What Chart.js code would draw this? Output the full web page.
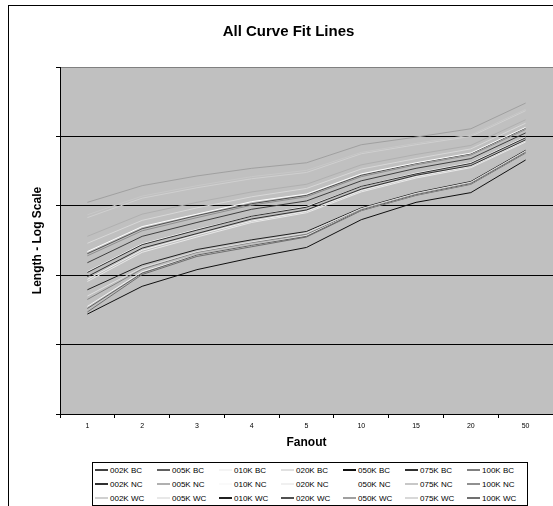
<!DOCTYPE html>
<html>
<head>
<meta charset="utf-8">
<script src="https://cdn.jsdelivr.net/npm/chart.js@4/dist/chart.umd.min.js"></script>
<style>
  html, body { margin: 0; padding: 0; background: #fff; overflow: hidden; }
  #wrap { position: relative; width: 553px; height: 506px; }
  #frame { position: absolute; left: 8px; top: 5px; width: 600px; height: 600px;
           border-left: 1px solid #000; border-top: 1px solid #000; }
  #chart { position: absolute; left: 0; top: 0; }
  #legend { position: absolute; left: 92px; top: 462px; width: 434px; height: 42px;
            border: 1px solid #000; background: #fff;
            display: grid; grid-template-columns: repeat(7, 62px); grid-auto-rows: 14px;
            font: 8px Arial, "Liberation Sans", sans-serif; color: #000; }
  #legend .item { display: flex; align-items: center; padding-left: 2px; white-space: nowrap; }
  #legend .swatch { width: 13px; height: 2px; margin-right: 2px; }
</style>
</head>
<body>
<div id="wrap">
  <div id="frame"></div>
  <canvas id="chart" width="553" height="506"></canvas>
  <div id="legend"></div>
</div>
<script>
// fanout categories
var fanout = ['1', '2', '3', '4', '5', '10', '15', '20', '50'];

// log10(length), one array per curve
var bc002 = [2.18, 2.56, 2.76, 2.95, 3.07, 3.36, 3.54, 3.68, 4.05];
var bc005 = [1.52, 2.03, 2.29, 2.43, 2.56, 2.94, 3.16, 3.32, 3.77];
var bc010 = [1.55, 2.05, 2.29, 2.43, 2.57, 2.94, 3.16, 3.32, 3.77];
var bc020 = [1.70, 2.11, 2.34, 2.48, 2.61, 2.96, 3.18, 3.34, 3.79];
var bc050 = [1.44, 1.84, 2.08, 2.25, 2.40, 2.80, 3.05, 3.19, 3.66];
var bc075 = [2.04, 2.44, 2.65, 2.85, 2.98, 3.28, 3.46, 3.61, 3.98];
var bc100 = [1.65, 2.09, 2.33, 2.47, 2.59, 2.95, 3.17, 3.33, 3.78];

var nc002 = [1.98, 2.39, 2.60, 2.81, 2.94, 3.24, 3.44, 3.58, 3.95];
var nc005 = [2.56, 2.88, 3.05, 3.20, 3.31, 3.59, 3.74, 3.87, 4.24];
var nc010 = [2.05, 2.45, 2.66, 2.85, 2.99, 3.28, 3.47, 3.62, 3.99];
var nc020 = [1.94, 2.36, 2.58, 2.78, 2.92, 3.22, 3.42, 3.57, 3.94];
var nc050 = [2.34, 2.70, 2.88, 3.06, 3.17, 3.46, 3.62, 3.76, 4.13];
var nc075 = [2.87, 3.14, 3.29, 3.42, 3.51, 3.77, 3.90, 4.02, 4.39];
var nc100 = [2.28, 2.64, 2.83, 3.01, 3.13, 3.42, 3.59, 3.73, 4.10];

var wc002 = [2.83, 3.11, 3.26, 3.39, 3.48, 3.75, 3.88, 4.00, 4.37];
var wc005 = [1.91, 2.33, 2.55, 2.76, 2.90, 3.20, 3.40, 3.55, 3.92];
var wc010 = [1.79, 2.15, 2.37, 2.51, 2.63, 2.97, 3.19, 3.35, 3.80];
var wc020 = [2.31, 2.67, 2.86, 3.03, 3.15, 3.44, 3.61, 3.75, 4.12];
var wc050 = [3.05, 3.29, 3.43, 3.54, 3.62, 3.88, 3.99, 4.11, 4.48];
var wc075 = [2.46, 2.79, 2.97, 3.13, 3.25, 3.53, 3.68, 3.82, 4.19];
var wc100 = [1.47, 2.01, 2.27, 2.41, 2.55, 2.93, 3.15, 3.31, 3.76];

var seriesNames = [
  '002K BC', '005K BC', '010K BC', '020K BC', '050K BC', '075K BC', '100K BC',
  '002K NC', '005K NC', '010K NC', '020K NC', '050K NC', '075K NC', '100K NC',
  '002K WC', '005K WC', '010K WC', '020K WC', '050K WC', '075K WC', '100K WC'
];
var seriesData = [
  bc002, bc005, bc010, bc020, bc050, bc075, bc100,
  nc002, nc005, nc010, nc020, nc050, nc075, nc100,
  wc002, wc005, wc010, wc020, wc050, wc075, wc100
];
var lineColors = [
  '#404040', '#606060', '#f4f4f4', '#e0e0e0', '#101010', '#303030', '#808080',
  '#303030', '#b0b0b0', '#fafafa', '#f0f0f0', '#ffffff', '#c8c8c8', '#909090',
  '#d0d0d0', '#e8e8e8', '#202020', '#505050', '#a0a0a0', '#d8d8d8', '#707070'
];

var plotBackground = {
  id: 'plotBackground',
  beforeDraw: function(chart) {
    var ctx = chart.ctx, a = chart.chartArea;
    ctx.save();
    ctx.fillStyle = '#c0c0c0';
    ctx.fillRect(a.left, a.top, a.right - a.left, a.bottom - a.top);
    ctx.strokeStyle = '#808080';
    ctx.lineWidth = 1;
    ctx.strokeRect(a.left + 0.5, a.top + 0.5, a.right - a.left, a.bottom - a.top);
    ctx.restore();
  }
};

var datasets = seriesNames.map(function(name, i) {
  return {
    label: name,
    data: seriesData[i],
    borderColor: lineColors[i],
    backgroundColor: lineColors[i],
    borderWidth: 1,
    pointRadius: 0,
    tension: 0,
    fill: false
  };
});

var ctx = document.getElementById('chart');
var curveChart = new Chart(ctx, {
  type: 'line',
  data: { labels: fanout, datasets: datasets },
  plugins: [plotBackground],
  options: {
    responsive: false,
    animation: false,
    devicePixelRatio: 1,
    layout: { padding: { left: 24, right: 0, top: 0, bottom: 52 } },
    plugins: {
      legend: { display: false },
      tooltip: { enabled: false },
      title: {
        display: true,
        text: 'All Curve Fit Lines',
        color: '#000',
        font: { family: 'Arial', size: 15, weight: 'bold', lineHeight: 1.2 },
        padding: { top: 23, bottom: 26 }
      }
    },
    scales: {
      x: {
        type: 'category',
        offset: true,
        grid: { offset: true, drawOnChartArea: false, tickLength: 4, tickColor: '#000' },
        border: { color: '#000' },
        ticks: { color: '#000', font: { family: 'Arial', size: 7 }, padding: 4, maxRotation: 0, autoSkip: false },
        title: {
          display: true, text: 'Fanout', color: '#000',
          font: { family: 'Arial', size: 12, weight: 'bold' },
          padding: { top: 0, bottom: 4 }
        },
        afterFit: function(scale) { scale.height = 40; }
      },
      y: {
        type: 'linear',
        min: 0,
        max: 5,
        ticks: { stepSize: 1, display: false },
        grid: {
          color: function(c) { return (c.tick.value === 0 || c.tick.value === 5) ? 'rgba(0,0,0,0)' : '#000'; },
          tickLength: 4,
          tickColor: '#000'
        },
        border: { color: '#000' },
        title: {
          display: true, text: 'Length - Log Scale', color: '#000',
          font: { family: 'Arial', size: 12, weight: 'bold' },
          padding: { top: 6, bottom: 0 }
        },
        afterFit: function(scale) { scale.width = 36; }
      }
    }
  }
});

// legend box under the chart, built from the datasets
var legendBox = document.getElementById('legend');
curveChart.data.datasets.forEach(function(ds) {
  var item = document.createElement('div');
  item.className = 'item';
  var sw = document.createElement('span');
  sw.className = 'swatch';
  sw.style.background = ds.borderColor;
  item.appendChild(sw);
  item.appendChild(document.createTextNode(ds.label));
  legendBox.appendChild(item);
});
</script>
</body>
</html>
